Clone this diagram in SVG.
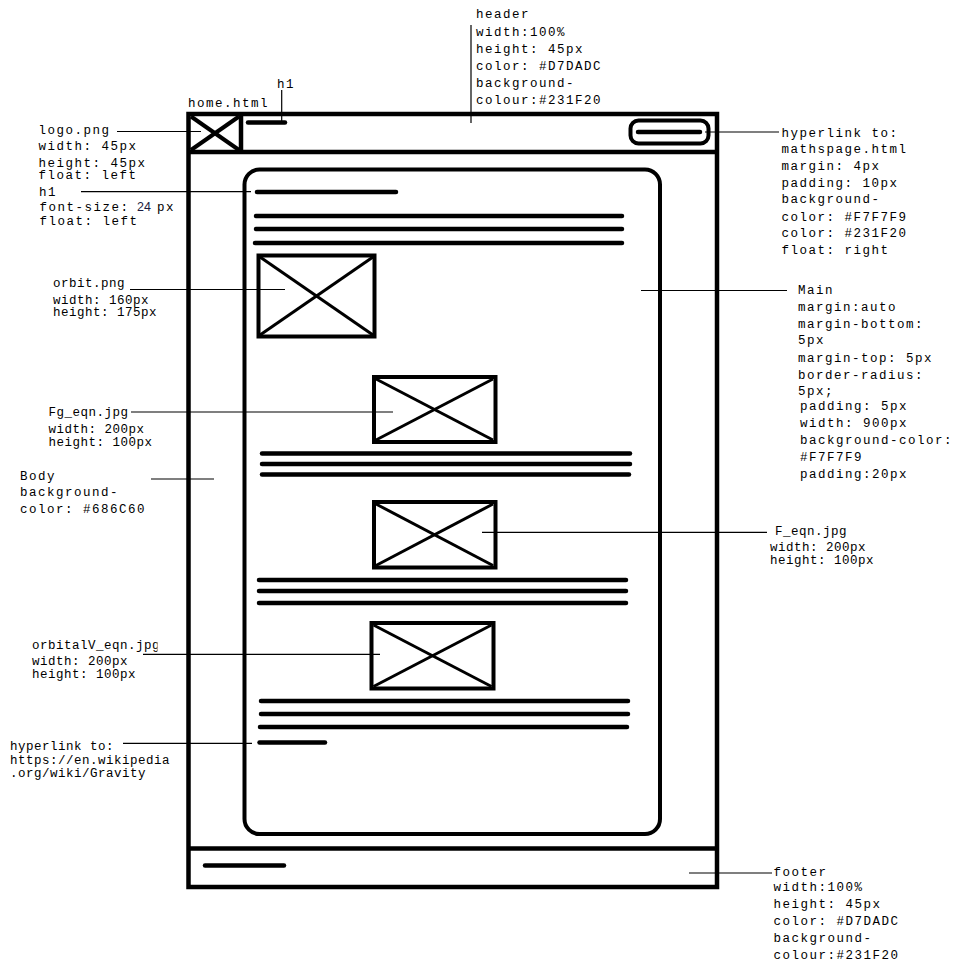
<svg xmlns="http://www.w3.org/2000/svg" width="970" height="978" viewBox="0 0 970 978">
<style>
.t{font-family:"Liberation Mono",monospace;font-size:12.5px;letter-spacing:1.5px;fill:#000}
.s{letter-spacing:0.5px}
.b{fill:none;stroke:#000;stroke-width:4.5}
.m{fill:none;stroke:#000;stroke-width:4}
.x{stroke:#000;stroke-width:3}
.ln{stroke:#000;stroke-width:4.5;stroke-linecap:round}
.p{stroke:#000;stroke-width:1.2;fill:none}
</style>
<defs>
<clipPath id="clipOV"><rect x="0" y="630" width="157.5" height="25"/></clipPath>
</defs>
<rect width="970" height="978" fill="#fff"/>

<g id="page-frame">
<rect class="b" x="188.5" y="114" width="528.5" height="773"/>
</g>

<g id="header">
<line class="b" x1="188.5" y1="152" x2="717" y2="152"/>
</g>

<g id="logo">
<line class="b" x1="241" y1="114" x2="241" y2="152"/>
<line class="x" x1="191" y1="116.5" x2="239" y2="150" style="stroke-width:4"/>
<line class="x" x1="239" y1="116.5" x2="191" y2="150" style="stroke-width:4"/>
</g>

<g id="header-h1">
<line class="ln" x1="248" y1="122.5" x2="285" y2="122.5"/>
</g>

<g id="nav-link">
<rect class="m" x="630.5" y="120.5" width="78" height="23" rx="8"/>
<line class="ln" x1="638" y1="132" x2="700" y2="132"/>
</g>

<g id="main">
<rect class="m" x="244.5" y="169.5" width="415.5" height="664.5" rx="15"/>
</g>

<g id="main-h1">
<line class="ln" x1="257" y1="192" x2="396" y2="192"/>
</g>

<g id="text-block-1">
<line class="ln" x1="256" y1="216" x2="622" y2="216"/>
<line class="ln" x1="256" y1="229" x2="622" y2="229"/>
<line class="ln" x1="255" y1="243" x2="622" y2="243"/>
</g>

<g id="orbit-img">
<rect class="m" x="258.5" y="255.5" width="116" height="81"/>
<line class="x" x1="260" y1="257" x2="373" y2="335"/>
<line class="x" x1="373" y1="257" x2="260" y2="335"/>
</g>

<g id="fg-eqn-img">
<rect class="m" x="374" y="377" width="121.5" height="65"/>
<line class="x" x1="376" y1="379" x2="493" y2="440"/>
<line class="x" x1="493" y1="379" x2="376" y2="440"/>
</g>

<g id="text-block-2">
<line class="ln" x1="262" y1="453.5" x2="630" y2="453.5"/>
<line class="ln" x1="262" y1="464" x2="630" y2="464"/>
<line class="ln" x1="262" y1="474.5" x2="629" y2="474.5"/>
</g>

<g id="f-eqn-img">
<rect class="m" x="374" y="502" width="121.5" height="65.5"/>
<line class="x" x1="376" y1="504" x2="493" y2="565.5"/>
<line class="x" x1="493" y1="504" x2="376" y2="565.5"/>
</g>

<g id="text-block-3">
<line class="ln" x1="259" y1="580" x2="626" y2="580"/>
<line class="ln" x1="259" y1="591" x2="626" y2="591"/>
<line class="ln" x1="259" y1="603" x2="626" y2="603"/>
</g>

<g id="orbitalv-eqn-img">
<rect class="m" x="371.5" y="623" width="122" height="65.5"/>
<line class="x" x1="373.5" y1="625" x2="491.5" y2="686.5"/>
<line class="x" x1="491.5" y1="625" x2="373.5" y2="686.5"/>
</g>

<g id="text-block-4">
<line class="ln" x1="261" y1="701" x2="628" y2="701"/>
<line class="ln" x1="261" y1="714" x2="628" y2="714"/>
<line class="ln" x1="260" y1="727" x2="627" y2="727"/>
</g>

<g id="wiki-link">
<line class="ln" x1="259.5" y1="742.5" x2="325" y2="742.5"/>
</g>

<g id="footer">
<line class="b" x1="188.5" y1="848.5" x2="717" y2="848.5"/>
<line class="ln" x1="205" y1="865.5" x2="284" y2="865.5"/>
</g>

<g id="connectors">
<line class="p" x1="471" y1="25" x2="471" y2="123"/>
<line class="p" x1="281.7" y1="90" x2="281.7" y2="121"/>
<line class="p" x1="705" y1="132" x2="779" y2="132"/>
<line class="p" x1="117" y1="131.5" x2="201" y2="131.5"/>
<line class="p" x1="81" y1="191.7" x2="251" y2="191.7"/>
<line class="p" x1="130" y1="289.5" x2="285" y2="289.5"/>
<line class="p" x1="641" y1="290.5" x2="787" y2="290.5"/>
<line class="p" x1="131" y1="412" x2="393" y2="412"/>
<line class="p" x1="151" y1="479" x2="214" y2="479"/>
<line class="p" x1="482" y1="532.3" x2="767" y2="532.3"/>
<line class="p" x1="143" y1="654.3" x2="380" y2="654.3"/>
<line class="p" x1="123" y1="743.3" x2="252" y2="743.3"/>
<line class="p" x1="689" y1="873" x2="772" y2="873"/>
</g>

<g id="label-header">
<text class="t" x="476" y="18">header</text>
<text class="t" x="476" y="35.5">width:100%</text>
<text class="t" x="476" y="53">height: 45px</text>
<text class="t" x="476" y="70">color: #D7DADC</text>
<text class="t" x="476" y="87">background-</text>
<text class="t" x="476" y="103.5">colour:#231F20</text>
</g>

<g id="label-h1-top">
<text class="t" x="277" y="88">h1</text>
</g>

<g id="label-home">
<text class="t" x="188" y="106.5">home.html</text>
</g>

<g id="label-logo">
<text class="t" x="38.5" y="133.5">logo.png</text>
<text class="t" x="38.5" y="150">width: 45px</text>
<text class="t" x="38.5" y="166.5">height: 45px</text>
<text class="t" x="38.5" y="179">float: left</text>
</g>

<g id="label-h1">
<text class="t" x="39" y="196">h1</text>
<text class="t" x="39.5" y="211">font-size: <tspan x="137" style="font-family:'Liberation Sans',Arial,sans-serif;font-size:12.5px;letter-spacing:0;fill:#1a1a40">24</tspan><tspan x="157">px</tspan></text>
<text class="t" x="39.5" y="224.5">float: left</text>
</g>

<g id="label-orbit">
<text class="t s" x="53" y="287">orbit.png</text>
<text class="t s" x="53" y="303.5">width: 160px</text>
<text class="t s" x="53" y="316">height: 175px</text>
</g>

<g id="label-fg">
<text class="t s" x="48.5" y="415.5">Fg_eqn.jpg</text>
<text class="t s" x="48.5" y="432.5">width: 200px</text>
<text class="t s" x="48.5" y="445.5">height: 100px</text>
</g>

<g id="label-body">
<text class="t" x="20" y="479.5">Body</text>
<text class="t" x="20" y="496">background-</text>
<text class="t" x="20" y="512.5">color: #686C60</text>
</g>

<g id="label-orbitalv">
<text class="t s" x="32" y="648.5" clip-path="url(#clipOV)">orbitalV_eqn.jpg</text>
<text class="t s" x="32" y="664.5">width: 200px</text>
<text class="t s" x="32" y="677.5">height: 100px</text>
</g>

<g id="label-wiki">
<text class="t s" x="10" y="749.5">hyperlink to:</text>
<text class="t s" x="10" y="764">https://en.wikipedia</text>
<text class="t s" x="10" y="776.5">.org/wiki/Gravity</text>
</g>

<g id="label-nav">
<text class="t" x="781.5" y="136.5">hyperlink to:</text>
<text class="t" x="781.5" y="153">mathspage.html</text>
<text class="t" x="781.5" y="170">margin: 4px</text>
<text class="t" x="781.5" y="186.5">padding: 10px</text>
<text class="t" x="781.5" y="203">background-</text>
<text class="t" x="781.5" y="220.5">color: #F7F7F9</text>
<text class="t" x="781.5" y="237">color: #231F20</text>
<text class="t" x="781.5" y="254">float: right</text>
</g>

<g id="label-main">
<text class="t" x="798" y="293.5">Main</text>
<text class="t" x="798" y="310.5">margin:auto</text>
<text class="t" x="798" y="327.5">margin-bottom:</text>
<text class="t" x="798" y="344">5px</text>
<text class="t" x="798" y="361.5">margin-top: 5px</text>
<text class="t" x="798" y="378.5">border-radius:</text>
<text class="t" x="798" y="395">5px;</text>
<text class="t" x="800" y="409.5">padding: 5px</text>
<text class="t" x="800" y="426.5">width: 900px</text>
<text class="t" x="800" y="443.5">background-color:</text>
<text class="t" x="800" y="460.5">#F7F7F9</text>
<text class="t" x="800" y="477.5">padding:20px</text>
</g>

<g id="label-f">
<text class="t s" x="775" y="535">F_eqn.jpg</text>
<text class="t s" x="770" y="550.5">width: 200px</text>
<text class="t s" x="770" y="564">height: 100px</text>
</g>

<g id="label-footer">
<text class="t" x="773.5" y="876">footer</text>
<text class="t" x="773.5" y="891">width:100%</text>
<text class="t" x="773.5" y="908">height: 45px</text>
<text class="t" x="773.5" y="925">color: #D7DADC</text>
<text class="t" x="773.5" y="942">background-</text>
<text class="t" x="773.5" y="959">colour:#231F20</text>
</g>
</svg>
